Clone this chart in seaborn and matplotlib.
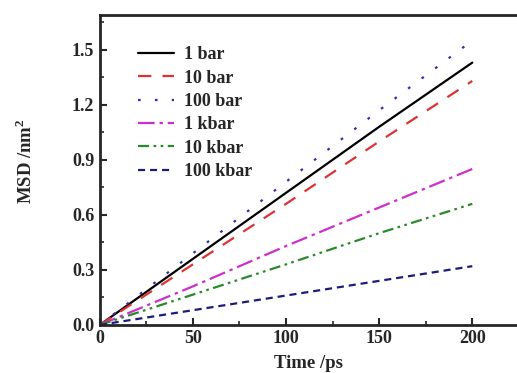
import matplotlib
matplotlib.use("Agg")
import matplotlib.pyplot as plt
import seaborn as sns
import pandas as pd

# MSD curves
time_ps = [0, 50, 100, 150, 200]
msd_1bar = [0.0, 0.36, 0.72, 1.08, 1.43]
msd_10bar = [0.0, 0.33, 0.66, 1.00, 1.33]
msd_100bar = [0.0, 0.39, 0.78, 1.17, 1.55]
msd_1kbar = [0.0, 0.21, 0.43, 0.64, 0.85]
msd_10kbar = [0.0, 0.165, 0.33, 0.50, 0.66]
msd_100kbar = [0.0, 0.08, 0.16, 0.24, 0.32]
labels = ["1 bar", "10 bar", "100 bar", "1 kbar", "10 kbar", "100 kbar"]

series = [msd_1bar, msd_10bar, msd_100bar, msd_1kbar, msd_10kbar, msd_100kbar]
colors = ["black", "#dd3333", "#2f2fb0", "#cc2fcc", "#2a8a2a", "#1c1c78"]
dashes = [None, (6, 5), (1.2, 6.4), (7.5, 2.2, 1.5, 2.2), (5, 2, 1.2, 2, 1.2, 2), (3.2, 2.2)]

sns.set_style("ticks")
plt.rcParams["font.family"] = ["Liberation Serif", "DejaVu Serif"]
plt.rcParams["font.weight"] = "bold"
plt.rcParams["mathtext.fontset"] = "custom"
plt.rcParams["mathtext.rm"] = "Liberation Serif:bold"

fig = plt.figure(figsize=(5.17, 3.73), dpi=100)
ax = fig.add_axes([0.193, 0.129, 0.807, 0.831])

for vals, lab, col, d in zip(series, labels, colors, dashes):
    df = pd.DataFrame({"t": time_ps, "msd": vals})
    sns.lineplot(data=df, x="t", y="msd", ax=ax, color=col, label=lab, linewidth=1.6)
    if d is not None:
        ax.lines[-1].set_dashes(d)

ax.set_xlim(0, 224)
ax.set_ylim(0, 1.69)
ax.set_xticks([0, 50, 100, 150, 200])
ax.set_xticks([25, 75, 125, 175], minor=True)
ax.set_yticks([0.0, 0.3, 0.6, 0.9, 1.2, 1.5])
ax.set_yticks([0.15, 0.45, 0.75, 1.05, 1.35, 1.65], minor=True)
ax.set_yticklabels(["0.0", "0.3", "0.6", "0.9", "1.2", "1.5"])
ax.tick_params(direction="in", which="major", length=5, width=1.5, labelsize=13)
ax.tick_params(direction="in", which="minor", length=3, width=1.2)
ax.tick_params(axis="both", pad=4)

for s in ["left", "bottom", "top"]:
    ax.spines[s].set_linewidth(2)
    ax.spines[s].set_visible(True)
ax.spines["right"].set_visible(False)

ax.set_xlabel("Time /ps", fontsize=13.5, fontweight="bold")
ax.set_ylabel("MSD /nm$^2$", fontsize=13.5, fontweight="bold")
ax.xaxis.set_label_coords(0.5, -0.097)
ax.yaxis.set_label_coords(-0.152, 0.53)

leg = ax.legend(loc="upper left", frameon=False, fontsize=13, handlelength=2.0,
                handletextpad=0.55, labelspacing=0.35, borderaxespad=0.0,
                bbox_to_anchor=(0.075, 0.922))
for t in leg.get_texts():
    t.set_fontweight("bold")

fig.savefig("out.png", dpi=100)
